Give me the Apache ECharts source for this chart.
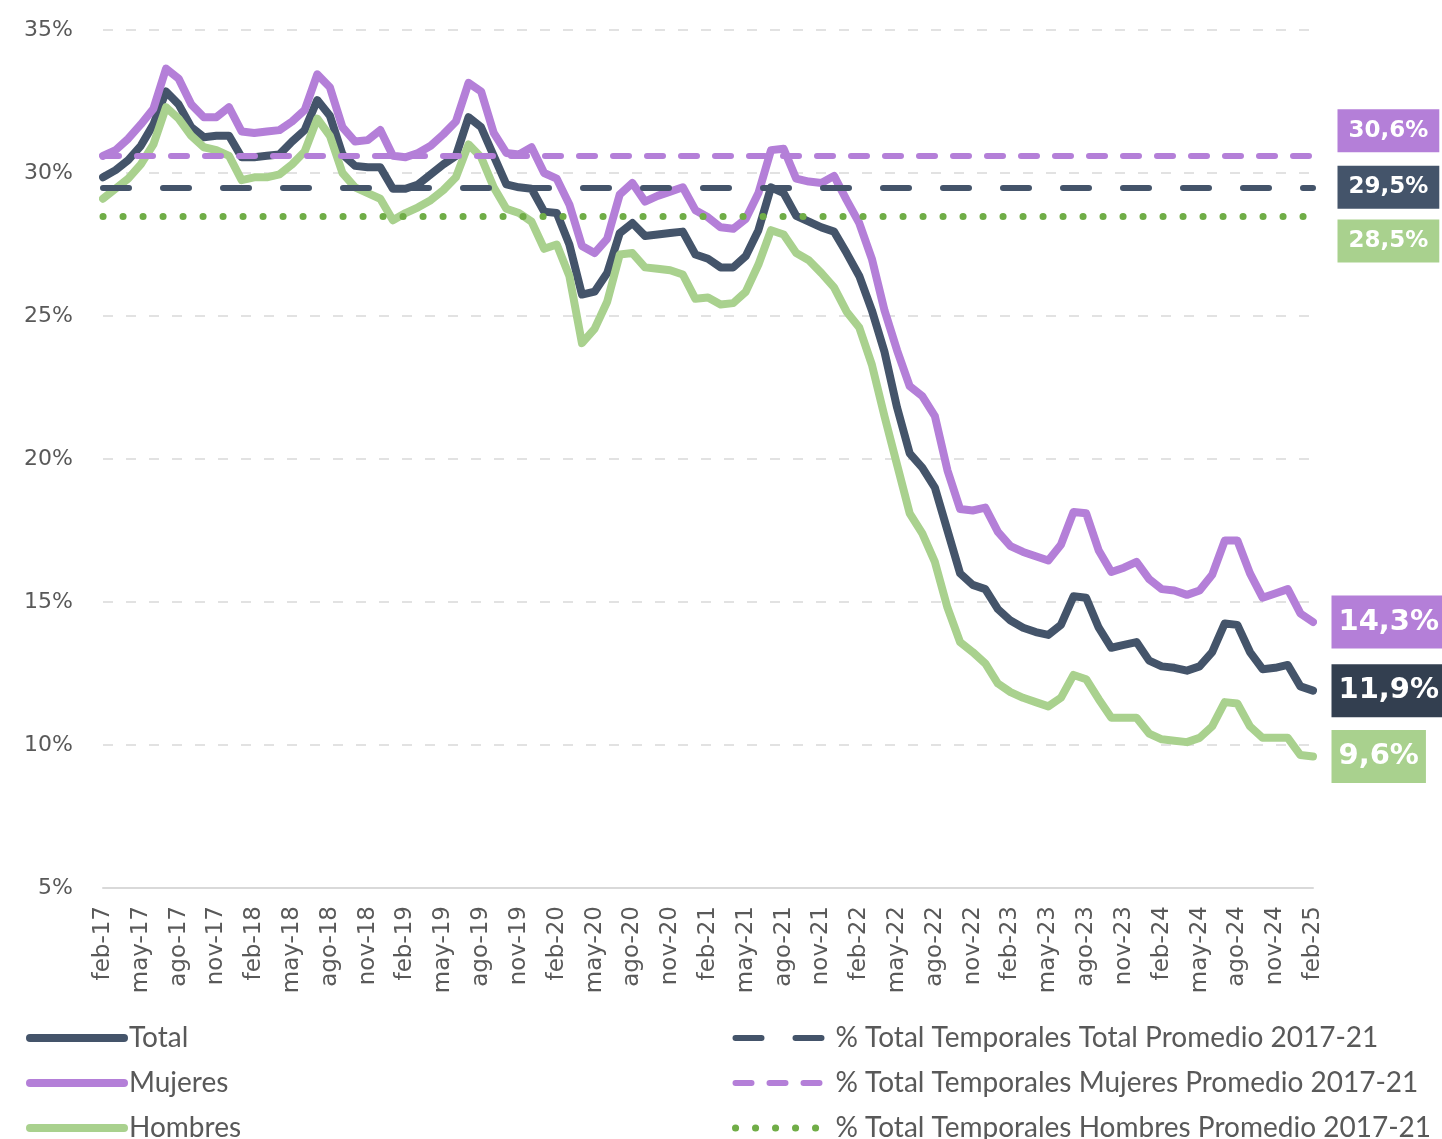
<!DOCTYPE html>
<html><head><meta charset="utf-8">
<script src="https://cdn.jsdelivr.net/npm/echarts@6/dist/echarts.min.js"></script>
<style>html,body{margin:0;padding:0;background:#fff}#c{width:1442px;height:1139px}</style>
</head><body><div id="c"></div>
<script>
const categories = [
'feb-17','mar-17','abr-17','may-17','jun-17','jul-17','ago-17','sep-17','oct-17','nov-17','dic-17',
'ene-18','feb-18','mar-18','abr-18','may-18','jun-18','jul-18','ago-18','sep-18','oct-18','nov-18','dic-18',
'ene-19','feb-19','mar-19','abr-19','may-19','jun-19','jul-19','ago-19','sep-19','oct-19','nov-19','dic-19',
'ene-20','feb-20','mar-20','abr-20','may-20','jun-20','jul-20','ago-20','sep-20','oct-20','nov-20','dic-20',
'ene-21','feb-21','mar-21','abr-21','may-21','jun-21','jul-21','ago-21','sep-21','oct-21','nov-21','dic-21',
'ene-22','feb-22','mar-22','abr-22','may-22','jun-22','jul-22','ago-22','sep-22','oct-22','nov-22','dic-22',
'ene-23','feb-23','mar-23','abr-23','may-23','jun-23','jul-23','ago-23','sep-23','oct-23','nov-23','dic-23',
'ene-24','feb-24','mar-24','abr-24','may-24','jun-24','jul-24','ago-24','sep-24','oct-24','nov-24','dic-24',
'ene-25','feb-25'];

const total = [
29.85,30.1,30.45,30.95,31.7,32.85,32.4,31.6,31.25,31.3,31.3,
30.55,30.55,30.6,30.65,31.1,31.5,32.55,32.0,30.65,30.25,30.2,30.2,
29.45,29.45,29.6,29.95,30.3,30.6,31.95,31.6,30.6,29.6,29.5,29.45,
28.65,28.6,27.5,25.75,25.85,26.5,27.9,28.25,27.8,27.85,27.9,27.95,
27.15,27.0,26.7,26.7,27.1,28.0,29.5,29.3,28.5,28.3,28.1,27.95,
27.2,26.4,25.2,23.75,21.8,20.2,19.7,19.0,17.5,16.0,15.6,15.45,
14.75,14.35,14.1,13.95,13.85,14.2,15.2,15.15,14.1,13.4,13.5,13.6,
12.95,12.75,12.7,12.6,12.75,13.25,14.25,14.2,13.25,12.65,12.7,12.8,
12.05,11.9];

const mujeres = [
30.6,30.8,31.2,31.7,32.25,33.65,33.3,32.4,31.95,31.95,32.3,
31.45,31.4,31.45,31.5,31.8,32.2,33.45,33.0,31.6,31.1,31.15,31.5,
30.6,30.55,30.7,30.95,31.35,31.8,33.15,32.85,31.4,30.7,30.65,30.9,
30.0,29.8,28.9,27.45,27.2,27.7,29.25,29.65,29.0,29.2,29.35,29.5,
28.7,28.45,28.1,28.05,28.4,29.3,30.8,30.85,29.8,29.7,29.65,29.9,
29.05,28.25,27.0,25.2,23.8,22.55,22.2,21.5,19.6,18.25,18.2,18.3,
17.45,16.95,16.75,16.6,16.45,17.0,18.15,18.1,16.8,16.05,16.2,16.4,
15.8,15.45,15.4,15.25,15.4,15.95,17.15,17.15,16.0,15.15,15.3,15.45,
14.6,14.3];

const hombres = [
29.1,29.45,29.8,30.3,31.0,32.3,31.9,31.3,30.9,30.8,30.6,
29.75,29.85,29.85,29.95,30.3,30.75,31.9,31.3,30.0,29.5,29.3,29.1,
28.35,28.6,28.8,29.05,29.4,29.85,31.0,30.55,29.5,28.75,28.6,28.3,
27.35,27.5,26.4,24.05,24.55,25.5,27.15,27.2,26.7,26.65,26.6,26.45,
25.6,25.65,25.4,25.45,25.85,26.8,28.0,27.85,27.2,26.95,26.5,26.0,
25.15,24.6,23.3,21.5,19.8,18.1,17.4,16.4,14.8,13.6,13.25,12.85,
12.15,11.85,11.65,11.5,11.35,11.65,12.45,12.3,11.6,10.95,10.95,10.95,
10.4,10.2,10.15,10.1,10.25,10.65,11.5,11.45,10.65,10.25,10.25,10.25,
9.65,9.6];

const avgTotal = 29.5;
const avgMujeres = 30.6;
const avgHombres = 28.5;

const seriesNames = ['Total','Mujeres','Hombres'];
const avgNames = ['% Total Temporales Total Promedio 2017-21','% Total Temporales Mujeres Promedio 2017-21','% Total Temporales Hombres Promedio 2017-21'];

const C_TOTAL = '#44546A', C_TOTAL_DARK = '#333F50', C_MUJ = '#B47FD8', C_HOM = '#A9D18E', C_HOM_DOT = '#70AD47';
const last = categories.length - 1;
const fmt = v => v.toFixed(1).replace('.', ',') + '%';

function endMark(value, bg, big, dy) {
  return {
    silent: true,
    symbol: 'circle', symbolSize: 1,
    itemStyle: {color: 'rgba(0,0,0,0)'},
    label: {
      show: true, position: 'right', distance: big ? 18 : 24, offset: [0, dy],
      formatter: () => fmt(value),
      color: '#fff', fontFamily: 'DejaVu Sans', fontWeight: 'bold',
      fontSize: big ? 29 : 23, lineHeight: big ? 34 : 28,
      backgroundColor: bg,
      padding: big ? [10, 7, 9, 7] : [8, 11, 7, 11]
    },
    data: [{coord: [categories[last], value], value: value}]
  };
}

function mainSeries(name, data, color, labelBg) {
  return {
    name, type: 'line', data, symbol: 'none', z: 3,
    lineStyle: {color, width: 8, cap: 'round', join: 'round'},
    itemStyle: {color},
    emphasis: {disabled: true},
    markPoint: endMark(data[last], labelBg, true, 0)
  };
}

function avgSeries(name, value, color, width, dash, labelBg, dy) {
  const ls = {color, width, type: dash, cap: 'round'};
  return {
    name, type: 'line', data: [], symbol: 'none', z: 4,
    lineStyle: ls, itemStyle: {color},
    markLine: {
      silent: true, symbol: ['none', 'none'], label: {show: false},
      lineStyle: ls, emphasis: {disabled: true},
      data: [{yAxis: value}]
    },
    markPoint: endMark(value, labelBg, false, dy)
  };
}

const legendCommon = {
  orient: 'vertical', top: 1024, height: 200, padding: 0,
  itemHeight: 20, itemGap: 17, selectedMode: false,
  itemStyle: {opacity: 0}
};

const chart = echarts.init(document.getElementById('c'));
chart.setOption({
  animation: false,
  backgroundColor: '#fff',
  grid: {left: 103, right: 129, top: 30, bottom: 251},
  xAxis: {
    type: 'category', data: categories, boundaryGap: false,
    axisLine: {lineStyle: {color: '#D9D9D9', width: 2}},
    axisTick: {show: false},
    splitLine: {show: false},
    axisLabel: {
      interval: 2, rotate: 90, margin: 18,
      color: '#595959', fontFamily: 'DejaVu Sans', fontSize: 23
    }
  },
  yAxis: {
    type: 'value', min: 5, max: 35, interval: 5,
    axisLine: {show: false}, axisTick: {show: false},
    axisLabel: {formatter: '{value}%', color: '#595959', fontFamily: 'DejaVu Sans', fontSize: 22, margin: 30},
    splitLine: {lineStyle: {color: '#D9D9D9', width: 1.5, type: [10, 13]}}
  },
  legend: [
    Object.assign({}, legendCommon, {
      left: 26, itemWidth: 94,
      textStyle: {color: '#595959', fontFamily: 'Lato', fontSize: 28},
      data: seriesNames.map(n => ({name: n, lineStyle: {width: 8, cap: 'round'}}))
    }),
    Object.assign({}, legendCommon, {
      left: 732, itemWidth: 90,
      textStyle: {color: '#595959', fontFamily: 'Lato', fontSize: 28, padding: [0, 0, 0, 5]},
      data: avgNames.map((n, i) => ({name: n, lineStyle: {width: i === 2 ? 7 : 6, cap: 'round'}}))
    })
  ],
  series: [
    mainSeries(seriesNames[0], total, C_TOTAL, C_TOTAL_DARK),
    mainSeries(seriesNames[1], mujeres, C_MUJ, C_MUJ),
    mainSeries(seriesNames[2], hombres, C_HOM, C_HOM),
    avgSeries(avgNames[0], avgTotal, C_TOTAL, 6, [26, 34], C_TOTAL, 0),
    avgSeries(avgNames[1], avgMujeres, C_MUJ, 6, [16, 18], C_MUJ, -25),
    avgSeries(avgNames[2], avgHombres, C_HOM_DOT, 7, [0.1, 19.9], C_HOM, 25)
  ]
});
</script>
</body></html>
